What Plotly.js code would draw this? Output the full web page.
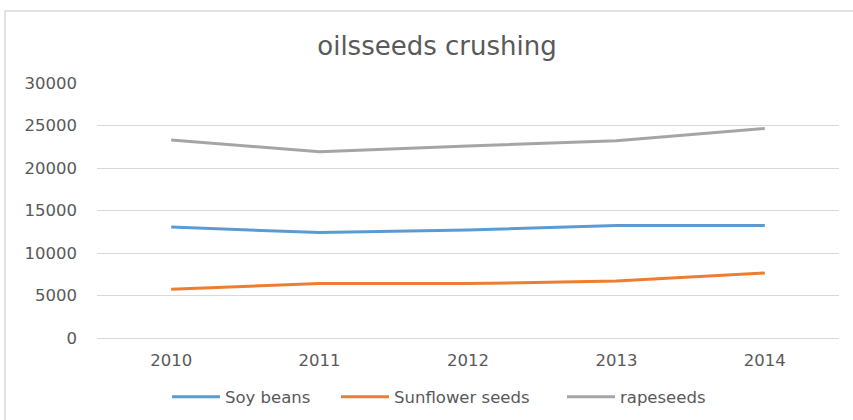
<!DOCTYPE html>
<html>
<head>
<meta charset="utf-8">
<script src="https://cdn.plot.ly/plotly-3.0.1.min.js"></script>
<style>html,body{margin:0;padding:0;background:#fff;}#chart{width:853px;height:420px;}</style>
</head>
<body>
<div id="chart"></div>
<script>
const years = ['2010', '2011', '2012', '2013', '2014'];
const soyBeans = [13050, 12400, 12700, 13250, 13250];
const sunflowerSeeds = [5750, 6400, 6400, 6700, 7650];
const rapeseeds = [23300, 21900, 22600, 23200, 24650];
const seriesNames = ['Soy beans', 'Sunflower seeds', 'rapeseeds'];
const yTicks = [0, 5000, 10000, 15000, 20000, 25000, 30000];

const colors = ['#5B9BD5', '#ED7D31', '#A5A5A5'];
const textColor = '#595959';
const font = 'DejaVu Sans, sans-serif';
const allSeries = [soyBeans, sunflowerSeeds, rapeseeds];
const legendIds = ['legend', 'legend2', 'legend3'];
const legendX = [167, 336, 562];

const traces = allSeries.map((vals, i) => ({
  type: 'scatter',
  mode: 'lines',
  x: years,
  y: vals,
  name: seriesNames[i],
  legend: legendIds[i],
  line: {color: colors[i], width: 3}
}));

const legendBase = (px) => ({
  orientation: 'h',
  xref: 'container', yref: 'container',
  x: px / 853, xanchor: 'left',
  y: 1 - 397 / 420, yanchor: 'middle',
  font: {family: font, size: 16.5, color: textColor},
  itemwidth: 48,
  bgcolor: 'rgba(0,0,0,0)',
  borderwidth: 0
});

const layout = {
  width: 853,
  height: 420,
  margin: {l: 97, r: 14, t: 83, b: 82, autoexpand: false},
  paper_bgcolor: '#fff',
  plot_bgcolor: '#fff',
  title: {
    text: 'oilsseeds crushing',
    font: {family: font, size: 26, color: textColor},
    x: 437 / 853, xanchor: 'center',
    y: 1 - 46 / 420, yanchor: 'middle'
  },
  xaxis: {
    type: 'category',
    range: [-0.5, 4.5],
    showgrid: false,
    zeroline: false,
    showline: false,
    ticks: '',
    ticklabelstandoff: 10,
    tickfont: {family: font, size: 16.5, color: textColor},
    fixedrange: true
  },
  yaxis: {
    range: [0, 30000],
    tickvals: yTicks,
    ticktext: yTicks.map(String),
    showgrid: true,
    gridcolor: '#D9D9D9',
    gridwidth: 1,
    zeroline: true,
    zerolinecolor: '#D9D9D9',
    zerolinewidth: 1,
    showline: false,
    ticks: '',
    ticklabelstandoff: 19,
    tickfont: {family: font, size: 16.5, color: textColor},
    fixedrange: true
  },
  showlegend: true,
  legend: legendBase(legendX[0]),
  legend2: legendBase(legendX[1]),
  legend3: legendBase(legendX[2]),
  shapes: [{
    type: 'rect', xref: 'paper', yref: 'paper',
    x0: -0.124, x1: 1.05, y0: -0.5, y1: 1.282,
    line: {color: '#D9D9D9', width: 1.5},
    fillcolor: 'rgba(0,0,0,0)'
  }]
};

Plotly.newPlot('chart', traces, layout, {displayModeBar: false, staticPlot: true});
</script>
</body>
</html>
